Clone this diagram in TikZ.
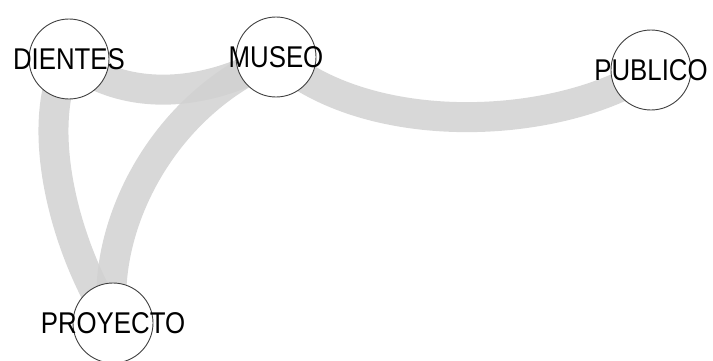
\documentclass[tikz,border=0pt]{standalone}
\usepackage{fontspec}
\setmainfont{Liberation Sans}
\usetikzlibrary{backgrounds}
\newcommand{\narrowtext}[1]{\scalebox{0.86}[1]{\fontsize{30}{30}\selectfont #1}}
\tikzset{
  term/.style={circle, draw=black!75, line width=0.9pt, fill=white,
               minimum size=80pt, inner sep=0pt},
  termlabel/.style={label={[inner sep=0pt, text=black]center:\narrowtext{#1}}},
  link/.style={draw=black!18, line width=30pt, opacity=0.85, line cap=butt}
}
\begin{document}
\begin{tikzpicture}[x=1pt, y=-1pt]
  \useasboundingbox (0,0) rectangle (713,361);

  % terms
  \node[term, termlabel=DIENTES]  (dientes)  at (69,59)  {};
  \node[term, termlabel=MUSEO]    (museo)    at (276,57) {};
  \node[term, termlabel=PUBLICO]  (publico)  at (651,70) {};
  \node[term, termlabel=PROYECTO] (proyecto) at (113,323) {};

  % co-occurrence links, drawn underneath the terms
  \begin{scope}[on background layer]
    \draw[link] (dientes.center) .. controls (130,105) and (210,95) .. (museo.center);
    \draw[link] (museo.center) .. controls (370,140) and (560,130) .. (publico.center);
    \draw[link] (dientes.center) .. controls (35,120) and (60,240) .. (proyecto.center);
    \draw[link] (museo.center) .. controls (160,105) and (100,230) .. (proyecto.center);
  \end{scope}
\end{tikzpicture}
\end{document}
